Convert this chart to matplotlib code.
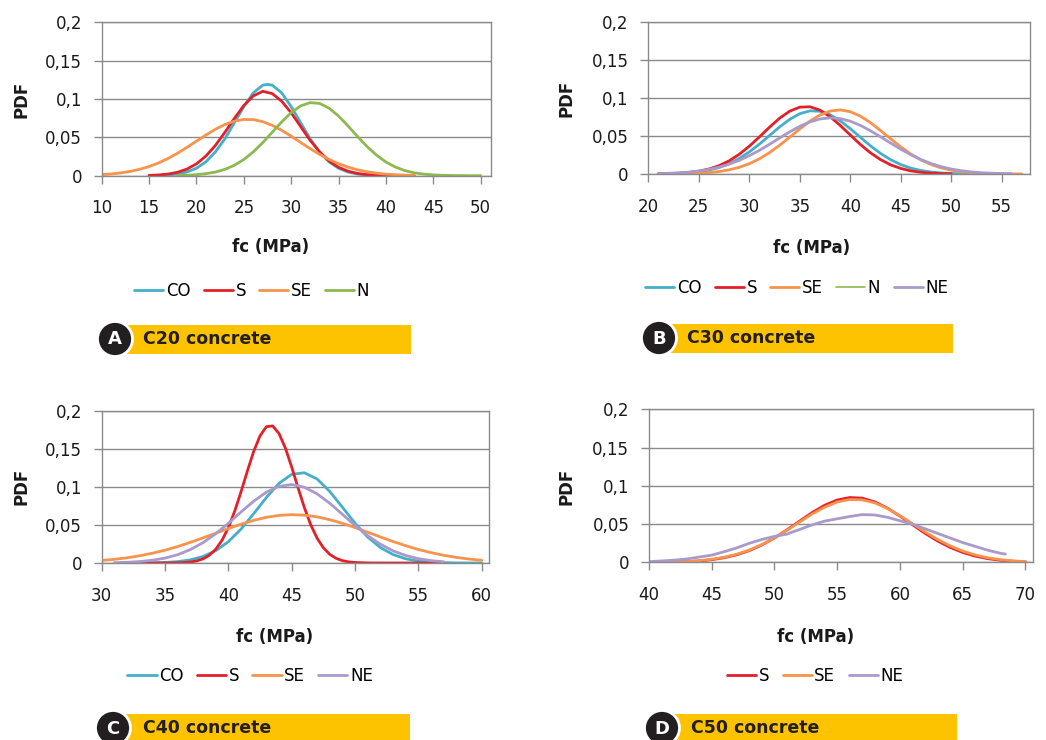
import matplotlib
matplotlib.use("Agg")
import matplotlib.pyplot as plt
from matplotlib.patches import Circle, Rectangle
from matplotlib.ticker import FuncFormatter

# ---------------------------------------------------------------------------
# Data (fc in MPa, PDF values)
# ---------------------------------------------------------------------------
# A - C20 concrete
a_co_x = [16, 17, 18, 19, 20, 21, 22, 23, 24, 25, 26, 27, 27.5, 28, 29, 30,
          31, 32, 33, 34, 35, 36, 37, 38, 39, 40]
a_co = [0.0003, 0.0009, 0.0021, 0.0048, 0.0097, 0.018, 0.031, 0.048, 0.069,
        0.090, 0.108, 0.118, 0.119, 0.118, 0.108, 0.090, 0.069, 0.048, 0.031,
        0.018, 0.0097, 0.0048, 0.0021, 0.0009, 0.0003, 0.0001]
a_s_x = list(range(15, 44))
a_s = [0.0004, 0.0009, 0.0021, 0.0044, 0.0086, 0.0154, 0.0256, 0.0394, 0.0564,
       0.0746, 0.0915, 0.104, 0.110, 0.107, 0.097, 0.082, 0.064, 0.046, 0.031,
       0.019, 0.0109, 0.0058, 0.0029, 0.0013, 0.0006, 0.0002, 0.0001, 0.0, 0.0]
a_se_x = list(range(10, 44))
a_se = [0.0014, 0.0022, 0.0036, 0.0055, 0.0083, 0.0119, 0.0166, 0.0224, 0.0292,
        0.0369, 0.045, 0.053, 0.0605, 0.0667, 0.0711, 0.0733, 0.0731, 0.0704,
        0.0656, 0.0591, 0.0515, 0.0433, 0.0353, 0.0278, 0.0212, 0.0156, 0.0111,
        0.0076, 0.0051, 0.0033, 0.0020, 0.0012, 0.0007, 0.0004]
a_n_x = list(range(18, 51))
a_n = [0.0003, 0.0006, 0.0013, 0.0026, 0.0047, 0.0082, 0.0135, 0.0211, 0.031,
       0.0431, 0.0566, 0.0701, 0.0822, 0.091, 0.0952, 0.0942, 0.088, 0.0777,
       0.0648, 0.0511, 0.038, 0.0268, 0.0178, 0.0112, 0.0066, 0.0037, 0.002,
       0.001, 0.0005, 0.0002, 0.0001, 0.0, 0.0]

# B - C30 concrete
b_co_x = list(range(21, 53))
b_co = [0.0002, 0.0004, 0.0008, 0.0016, 0.0029, 0.0051, 0.0085, 0.0135, 0.0203,
        0.029, 0.0393, 0.0507, 0.062, 0.072, 0.0794, 0.0832, 0.0827, 0.0781,
        0.0701, 0.0598, 0.0484, 0.0371, 0.0271, 0.0188, 0.0124, 0.0077, 0.0046,
        0.0026, 0.0014, 0.0007, 0.0003, 0.0001]
b_s_x = list(range(21, 51))
b_s = [0.0002, 0.0005, 0.001, 0.002, 0.0037, 0.0065, 0.0109, 0.0173, 0.0259,
       0.0366, 0.0488, 0.0616, 0.0735, 0.0828, 0.0881, 0.0886, 0.0842, 0.0756,
       0.0641, 0.0514, 0.0389, 0.0279, 0.0189, 0.012, 0.0073, 0.0041, 0.0022,
       0.0011, 0.0005, 0.0002]
b_se_x = list(range(22, 58))
b_se = [0.0001, 0.0002, 0.0005, 0.001, 0.0018, 0.0032, 0.0054, 0.0088, 0.0135,
        0.02, 0.0281, 0.0378, 0.0485, 0.0594, 0.0696, 0.0777, 0.0829, 0.0845,
        0.0821, 0.0763, 0.0677, 0.0573, 0.0463, 0.0357, 0.0263, 0.0185, 0.0125,
        0.008, 0.0049, 0.0029, 0.0016, 0.0009, 0.0005, 0.0002, 0.0001, 0.0]
b_n_x = []
b_n = []
b_ne_x = list(range(21, 57))
b_ne = [0.0005, 0.0009, 0.0015, 0.0024, 0.0039, 0.006, 0.009, 0.0129, 0.0179,
        0.0241, 0.0312, 0.0391, 0.0474, 0.0555, 0.0628, 0.0686, 0.0725, 0.074,
        0.073, 0.0696, 0.0641, 0.057, 0.049, 0.0407, 0.0327, 0.0254, 0.019,
        0.0138, 0.0096, 0.0065, 0.0043, 0.0027, 0.0016, 0.001, 0.0006, 0.0003]

# C - C40 concrete
c_co_x = list(range(32, 61))
c_co = [0.0, 0.0001, 0.0003, 0.0007, 0.0018, 0.0041, 0.0085, 0.0161, 0.028,
        0.0445, 0.0647, 0.086, 0.1046, 0.1164, 0.1185, 0.1104, 0.094, 0.0733,
        0.0522, 0.034, 0.0203, 0.0111, 0.0055, 0.0025, 0.0011, 0.0004, 0.0001,
        0.0, 0.0]
c_s_x = [33, 34, 35, 36, 36.5, 37, 37.5, 38, 38.5, 39, 39.5, 40, 40.5, 41, 41.5,
         42, 42.5, 43, 43.5, 44, 44.5, 45, 45.5, 46, 46.5, 47, 47.5, 48, 48.5,
         49, 49.5, 50, 51, 52, 54, 57]
c_s = [0.0, 0.0, 0.0, 0.0002, 0.0006, 0.0013, 0.0027, 0.0054, 0.0102, 0.018,
       0.0298, 0.0464, 0.068, 0.0934, 0.1207, 0.1465, 0.167, 0.179, 0.180,
       0.170, 0.151, 0.126, 0.0988, 0.0728, 0.0503, 0.0327, 0.020, 0.0114,
       0.0062, 0.0031, 0.0015, 0.0007, 0.0001, 0.0, 0.0, 0.0]
c_se_x = list(range(30, 61))
c_se = [0.0033, 0.0048, 0.0068, 0.0095, 0.0128, 0.0168, 0.0216, 0.0271, 0.033,
        0.0391, 0.0453, 0.051, 0.056, 0.060, 0.0625, 0.0635, 0.0628, 0.0606,
        0.0569, 0.0521, 0.0465, 0.0404, 0.0342, 0.0282, 0.0227, 0.0177, 0.0136,
        0.0101, 0.0073, 0.0052, 0.0035]
c_ne_x = list(range(31, 58))
c_ne = [0.0004, 0.0009, 0.0019, 0.0036, 0.0064, 0.0109, 0.0176, 0.0267, 0.0384,
        0.0521, 0.067, 0.0812, 0.093, 0.1007, 0.103, 0.0995, 0.0909, 0.0785,
        0.064, 0.0493, 0.0359, 0.0247, 0.016, 0.0098, 0.0057, 0.0031, 0.0016]

# D - C50 concrete
d_s_x = list(range(41, 71))
d_s = [0.0003, 0.0005, 0.0011, 0.002, 0.0036, 0.0062, 0.01, 0.0155, 0.0228,
       0.0319, 0.0425, 0.0538, 0.065, 0.0746, 0.0815, 0.0848, 0.084, 0.0791,
       0.071, 0.0606, 0.0493, 0.0381, 0.0281, 0.0197, 0.0131, 0.0083, 0.005,
       0.0029, 0.0016, 0.0008]
d_se_x = list(range(41, 71))
d_se = [0.0003, 0.0007, 0.0013, 0.0024, 0.0041, 0.0068, 0.0107, 0.0161, 0.0233,
        0.032, 0.042, 0.0527, 0.0632, 0.0722, 0.0789, 0.0822, 0.0818, 0.0778,
        0.0706, 0.0611, 0.0506, 0.040, 0.0301, 0.0217, 0.0149, 0.0098, 0.0061,
        0.0037, 0.0021, 0.0011]
d_ne_x = list(range(40, 69)) + [68.4]
d_ne = [0.001, 0.002, 0.003, 0.0045, 0.007, 0.0095, 0.014, 0.019, 0.025, 0.030,
        0.034, 0.037, 0.043, 0.049, 0.054, 0.057, 0.060, 0.0625, 0.062, 0.059,
        0.0545, 0.050, 0.044, 0.038, 0.032, 0.026, 0.021, 0.016, 0.012, 0.011]

y_ticks = [0, 0.05, 0.1, 0.15, 0.2]

# ---------------------------------------------------------------------------
# Styling
# ---------------------------------------------------------------------------
COL = {
    'CO': '#45AFC8',
    'S': '#E3202A',
    'SE': '#F7934A',
    'N': '#8DBA4F',
    'NE': '#A99ACB',
}
GRAY = '#8A8A8A'
YELLOW = '#FDC300'
DARK = '#231F20'

plt.rcParams['font.family'] = ['DejaVu Sans']

fig = plt.figure(figsize=(10.46, 7.4), dpi=100)

panels = [
    dict(rect=[0.0972, 0.7626, 0.3719, 0.2073], xlim=(10, 51.05),
         xticks=range(10, 51, 5),
         series=[(a_co_x, a_co, 'CO'), (a_s_x, a_s, 'S'),
                 (a_se_x, a_se, 'SE'), (a_n_x, a_n, 'N')],
         xlab=(0.435, -0.465), ylab=(-0.205, 0.5), leg=(0.386, -0.75)),
    dict(rect=[0.6198, 0.7649, 0.3649, 0.2050], xlim=(20, 57.8),
         xticks=range(20, 56, 5),
         series=[(b_co_x, b_co, 'CO'), (b_s_x, b_s, 'S'),
                 (b_se_x, b_se, 'SE'), (b_n_x, b_n, 'N'),
                 (b_ne_x, b_ne, 'NE')],
         xlab=(0.428, -0.488), ylab=(-0.214, 0.5), leg=(0.389, -0.753)),
    dict(rect=[0.0972, 0.2392, 0.3706, 0.2058], xlim=(30, 60.6),
         xticks=range(30, 61, 5),
         series=[(c_co_x, c_co, 'CO'), (c_s_x, c_s, 'S'),
                 (c_se_x, c_se, 'SE'), (c_ne_x, c_ne, 'NE')],
         xlab=(0.445, -0.486), ylab=(-0.206, 0.5), leg=(0.383, -0.742)),
    dict(rect=[0.6202, 0.2399, 0.3674, 0.2070], xlim=(40, 70.6),
         xticks=range(40, 71, 5),
         series=[(d_s_x, d_s, 'S'), (d_se_x, d_se, 'SE'),
                 (d_ne_x, d_ne, 'NE')],
         xlab=(0.435, -0.486), ylab=(-0.213, 0.5), leg=(0.433, -0.741)),
]

comma_fmt = FuncFormatter(lambda v, _: ('%g' % v).replace('.', ','))

for p in panels:
    ax = fig.add_axes(p['rect'])
    for x, y, name in p['series']:
        lw = 1.2 if (name == 'N' and len(x) == 0) else 2.0
        ax.plot(x, y, color=COL[name], lw=lw, label=name,
                solid_capstyle='round')
    ax.set_xlim(*p['xlim'])
    ax.set_ylim(0, 0.2)
    ax.set_xticks(list(p['xticks']))
    ax.set_yticks(y_ticks)
    ax.yaxis.set_major_formatter(comma_fmt)
    ax.yaxis.grid(True, color=GRAY, lw=1)
    ax.set_axisbelow(True)
    for sp in ax.spines.values():
        sp.set_color(GRAY)
        sp.set_linewidth(1)
    ax.tick_params(axis='x', direction='out', length=6, width=1, color=GRAY,
                   pad=11, labelsize=12, labelcolor='#1a1a1a')
    ax.tick_params(axis='y', direction='out', length=6, width=1, color=GRAY,
                   pad=8, labelsize=12, labelcolor='#1a1a1a')
    ax.set_xlabel('fc (MPa)', fontsize=12, fontweight='bold', color='#1a1a1a')
    ax.set_ylabel('PDF', fontsize=12, fontweight='bold', color='#1a1a1a')
    ax.xaxis.set_label_coords(*p['xlab'])
    ax.yaxis.set_label_coords(*p['ylab'])
    ax.xaxis.label.set_va('center')
    ax.yaxis.label.set_va('center')
    ax.legend(loc='center', bbox_to_anchor=p['leg'], ncol=len(p['series']),
              frameon=False, fontsize=12, handlelength=1.75,
              handletextpad=0.15, columnspacing=0.8, borderaxespad=0)

# panel badges drawn in pixel space
over = fig.add_axes([0, 0, 1, 1])
over.set_xlim(0, 1046)
over.set_ylim(740, 0)
over.axis('off')
over.patch.set_alpha(0)

badges = [
    ('A', 'C20 concrete', 115, 339, 120, 410.7, 143),
    ('B', 'C30 concrete', 659, 338, 665, 953, 687),
    ('C', 'C40 concrete', 113, 728, 120, 410, 143),
    ('D', 'C50 concrete', 662, 728, 668, 957, 691),
]
for letter, title, cx, cy, bx0, bx1, tx in badges:
    over.add_patch(Rectangle((bx0, cy - 14.5), bx1 - bx0, 29,
                             facecolor=YELLOW, edgecolor='none'))
    over.add_patch(Circle((cx, cy), 17.5, facecolor=DARK, edgecolor='white',
                          lw=2))
    over.text(cx, cy + 0.5, letter, color='white', fontsize=13,
              fontweight='bold', ha='center', va='center')
    over.text(tx, cy, title, color=DARK, fontsize=12.5, fontweight='bold',
              ha='left', va='center')

fig.savefig('out.png', dpi=100)
